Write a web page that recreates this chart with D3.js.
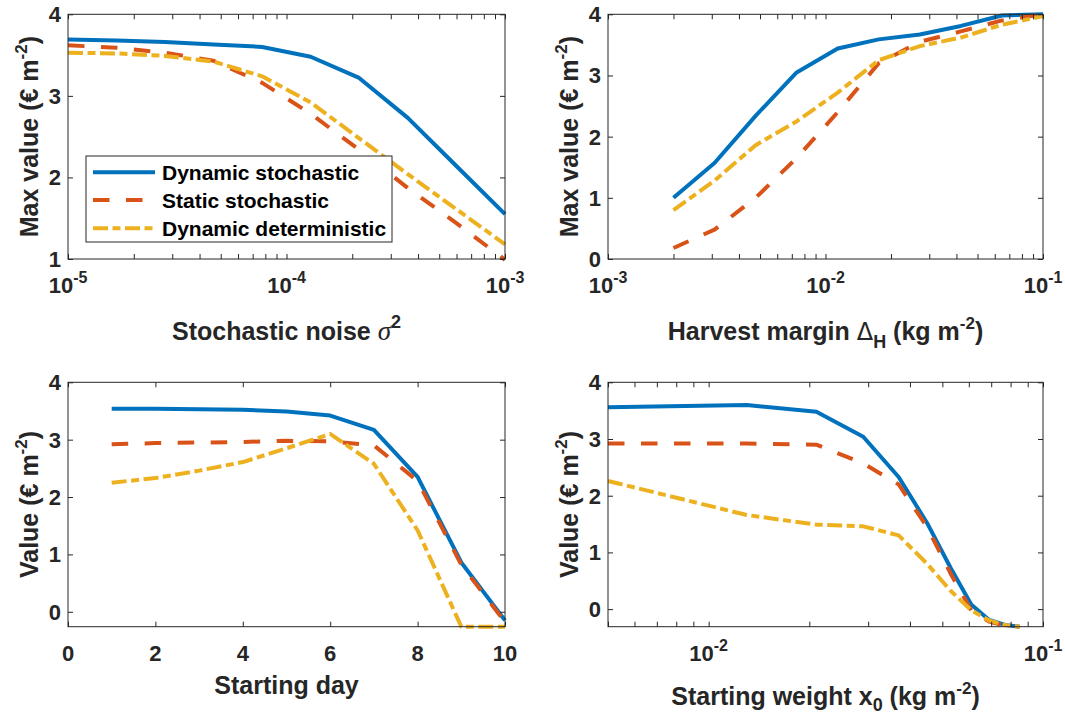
<!DOCTYPE html>
<html><head><meta charset="utf-8">
<script src="https://cdn.jsdelivr.net/npm/d3@7/dist/d3.min.js"></script>
<style>
body{margin:0;background:#fff}
svg text{font-family:"Liberation Sans",Arial,sans-serif;font-weight:bold;fill:#262626}
</style>
</head><body>
<svg id="c" width="1065" height="717"></svg>
<script>
// ---------------- data ----------------
const seriesNames = ["Dynamic stochastic", "Static stochastic", "Dynamic deterministic"];
const seriesColors = ["#0072BD", "#D95319", "#EDB120"];

// Panel 1: stochastic noise sigma^2
const noiseX = [1e-5, 1.67e-5, 2.78e-5, 4.64e-5, 7.74e-5, 1.29e-4, 2.15e-4, 3.59e-4, 5.99e-4, 1e-3];
const noiseDynStoch = [3.69, 3.68, 3.66, 3.63, 3.60, 3.48, 3.22, 2.73, 2.14, 1.55];
const noiseStatStoch = [3.62, 3.59, 3.53, 3.43, 3.16, 2.78, 2.34, 1.87, 1.44, 0.99];
const noiseDynDet = [3.53, 3.52, 3.49, 3.42, 3.24, 2.92, 2.48, 2.04, 1.61, 1.18];
const noiseXTicks = [1e-5, 1e-4, 1e-3];
const noiseXTickExp = ["-5", "-4", "-3"];
const noiseYTicks = [1, 2, 3, 4];

// Panel 2: harvest margin Delta_H
const marginX = [0.002, 0.003088, 0.00477, 0.007368, 0.01138, 0.01757, 0.02714, 0.04193, 0.06476, 0.1];
const marginDynStoch = [1.0, 1.57, 2.34, 3.05, 3.44, 3.59, 3.67, 3.81, 3.98, 4.0];
const marginStatStoch = [0.18, 0.48, 1.0, 1.65, 2.4, 3.2, 3.55, 3.72, 3.9, 4.0];
const marginDynDet = [0.80, 1.28, 1.86, 2.25, 2.72, 3.25, 3.48, 3.62, 3.83, 3.97];
const marginXTicks = [1e-3, 1e-2, 1e-1];
const marginXTickExp = ["-3", "-2", "-1"];
const marginYTicks = [0, 1, 2, 3, 4];

// Panel 3: starting day
const dayX = [1, 2, 3, 4, 5, 6, 7, 8, 9, 10];
const dayDynStoch = [3.54, 3.54, 3.53, 3.52, 3.49, 3.42, 3.17, 2.35, 0.86, -0.15];
const dayStatStoch = [2.92, 2.94, 2.95, 2.96, 2.98, 2.97, 2.90, 2.28, 0.82, -0.18];
const dayDynDet = [2.25, 2.33, 2.46, 2.61, 2.85, 3.10, 2.58, 1.42, -0.26, -0.26];
const dayXTicks = [0, 2, 4, 6, 8, 10];
const dayYTicks = [0, 1, 2, 3, 4];

// Panel 4: starting weight x0
const weightX = [0.005, 0.013, 0.021, 0.029, 0.037, 0.045, 0.053, 0.061, 0.069, 0.077, 0.085];
const weightDynStoch = [3.56, 3.60, 3.48, 3.04, 2.33, 1.52, 0.72, 0.08, -0.19, -0.28, -0.31];
const weightStatStoch = [2.92, 2.92, 2.90, 2.57, 2.20, 1.45, 0.62, -0.02, -0.22, -0.29, -0.31];
const weightDynDet = [2.26, 1.66, 1.49, 1.46, 1.30, 0.80, 0.32, -0.02, -0.20, -0.28, -0.31];
const weightXTicks = [1e-2, 1e-1];
const weightXTickExp = ["-2", "-1"];
const weightYTicks = [0, 1, 2, 3, 4];

// ---------------- drawing ----------------
const svg = d3.select("#c");
const dashes = [null, "16.5,16.5", "15,4.5,8,4.5"];
const LW = 4;

function minorLogTicks(lo, hi) {
  const out = [];
  for (let e = Math.floor(Math.log10(lo)); e < Math.ceil(Math.log10(hi)); e++) {
    for (let m = 2; m <= 9; m++) {
      const v = m * Math.pow(10, e);
      if (v >= lo * 0.999 && v <= hi * 1.001) out.push(v);
    }
  }
  return out;
}

function addParts(textSel, parts) {
  let shift = 0;
  parts.forEach(p => {
    const ts = textSel.append("tspan").text(p.t);
    let target = 0;
    if (p.sup) target = -p.sup;
    if (p.sub) target = p.sub;
    const dy = target - shift;
    if (dy !== 0) ts.attr("dy", dy);
    shift = target;
    if (p.size) ts.style("font-size", p.size + "px");
    if (p.family) ts.style("font-family", p.family);
    if (p.italic) ts.style("font-style", "italic");
    if (p.normal) ts.style("font-weight", "normal");
  });
}

function drawPanel(cfg) {
  const g = svg.append("g");
  const x = cfg.xScale.domain(cfg.xDomain).range([cfg.left, cfg.right]);
  const y = d3.scaleLinear().domain(cfg.yDomain).range([cfg.bottom, cfg.top]);

  const line = d3.line().x(d => x(d[0])).y(d => y(d[1]));
  cfg.series.forEach((s, i) => {
    g.append("path")
      .datum(cfg.xs.map((xv, j) => [xv, s[j]]))
      .attr("d", line)
      .attr("fill", "none")
      .attr("stroke", seriesColors[i])
      .attr("stroke-width", LW)
      .attr("stroke-linejoin", "round")
      .attr("stroke-dasharray", dashes[i]);
  });

  g.append("rect")
    .attr("x", cfg.left).attr("y", cfg.top)
    .attr("width", cfg.right - cfg.left).attr("height", cfg.bottom - cfg.top)
    .attr("fill", "none").attr("stroke", "#262626").attr("stroke-width", 1);

  const allX = cfg.xTicks.concat(cfg.xMinor || []);
  const tk = 5;
  const styleAxis = a => { a.select(".domain").remove(); a.selectAll("line").attr("stroke", "#262626"); };
  g.append("g").attr("transform", `translate(0,${cfg.bottom})`)
    .call(d3.axisBottom(x).tickValues(allX).tickSize(-tk).tickSizeOuter(0).tickFormat(""))
    .call(styleAxis);
  g.append("g").attr("transform", `translate(0,${cfg.top})`)
    .call(d3.axisTop(x).tickValues(allX).tickSize(-tk).tickSizeOuter(0).tickFormat(""))
    .call(styleAxis);
  g.append("g").attr("transform", `translate(${cfg.left},0)`)
    .call(d3.axisLeft(y).tickValues(cfg.yTicks).tickSize(-tk).tickSizeOuter(0).tickFormat(""))
    .call(styleAxis);
  g.append("g").attr("transform", `translate(${cfg.right},0)`)
    .call(d3.axisRight(y).tickValues(cfg.yTicks).tickSize(-tk).tickSizeOuter(0).tickFormat(""))
    .call(styleAxis);

  cfg.yTicks.forEach(v => {
    g.append("text").attr("x", cfg.left - 7).attr("y", y(v)).attr("dy", "0.36em")
      .attr("text-anchor", "end").style("font-size", "22px").text(v);
  });
  cfg.xTicks.forEach((v, k) => {
    const t = g.append("text").attr("x", x(v)).attr("y", cfg.bottom + 34)
      .attr("text-anchor", "middle").style("font-size", "22px");
    if (cfg.xExp) {
      addParts(t, [{t: "10"}, {t: cfg.xExp[k], sup: 10, size: 16}]);
    } else {
      t.text(cfg.xTicks[k]);
    }
  });
  const xl = g.append("text").attr("x", (cfg.left + cfg.right) / 2)
    .attr("y", cfg.bottom + cfg.xLabelOffset)
    .attr("text-anchor", "middle").style("font-size", "25px");
  addParts(xl, cfg.xLabel);
  const yl = g.append("text")
    .attr("transform", `translate(${cfg.left - 30},${(cfg.top + cfg.bottom) / 2}) rotate(-90)`)
    .attr("text-anchor", "middle").style("font-size", "25px");
  addParts(yl, cfg.yLabel);
  return {x, y, g};
}

const L1 = 68, R1 = 505, L2 = 608, R2 = 1043;
const T1 = 14.3, B1 = 259, T2 = 382.3, B2 = 626.7;

const yMaxLabel = [{t: "Max value (€ m"}, {t: "-2", sup: 11, size: 17}, {t: ")"}];
const yValLabel = [{t: "Value (€ m"}, {t: "-2", sup: 11, size: 17}, {t: ")"}];

drawPanel({
  left: L1, right: R1, top: T1, bottom: B1,
  xScale: d3.scaleLog(), xDomain: [1e-5, 1e-3], yDomain: [1, 4],
  xs: noiseX, series: [noiseDynStoch, noiseStatStoch, noiseDynDet],
  xTicks: noiseXTicks, xExp: noiseXTickExp, xMinor: minorLogTicks(1e-5, 1e-3),
  yTicks: noiseYTicks, xLabelOffset: 81,
  xLabel: [{t: "Stochastic noise "}, {t: "σ", italic: true, normal: true, family: "'Liberation Serif', serif", size: 27}, {t: "2", sup: 12, size: 18}],
  yLabel: yMaxLabel
});

drawPanel({
  left: L2, right: R2, top: T1, bottom: B1,
  xScale: d3.scaleLog(), xDomain: [1e-3, 1e-1], yDomain: [0, 4],
  xs: marginX, series: [marginDynStoch, marginStatStoch, marginDynDet],
  xTicks: marginXTicks, xExp: marginXTickExp, xMinor: minorLogTicks(1e-3, 1e-1),
  yTicks: marginYTicks, xLabelOffset: 81,
  xLabel: [{t: "Harvest margin "}, {t: "Δ", normal: true, family: "'DejaVu Sans', sans-serif", size: 24}, {t: "H", sub: 8, size: 18}, {t: " (kg m"}, {t: "-2", sup: 11, size: 17}, {t: ")"}],
  yLabel: yMaxLabel
});

drawPanel({
  left: L1, right: R1, top: T2, bottom: B2,
  xScale: d3.scaleLinear(), xDomain: [0, 10], yDomain: [-0.26, 4],
  xs: dayX, series: [dayDynStoch, dayStatStoch, dayDynDet],
  xTicks: dayXTicks, xExp: null, xMinor: [],
  yTicks: dayYTicks, xLabelOffset: 67,
  xLabel: [{t: "Starting day"}],
  yLabel: yValLabel
});

drawPanel({
  left: L2, right: R2, top: T2, bottom: B2,
  xScale: d3.scaleLog(), xDomain: [0.005, 0.1], yDomain: [-0.31, 4],
  xs: weightX, series: [weightDynStoch, weightStatStoch, weightDynDet],
  xTicks: weightXTicks, xExp: weightXTickExp, xMinor: minorLogTicks(0.005, 0.1),
  yTicks: weightYTicks, xLabelOffset: 78,
  xLabel: [{t: "Starting weight x"}, {t: "0", sub: 6, size: 18}, {t: " (kg m"}, {t: "-2", sup: 11, size: 17}, {t: ")"}],
  yLabel: yValLabel
});

// legend (top-left panel)
const lg = svg.append("g");
const lgX = 86, lgY = 156, lgW = 306, lgH = 86;
lg.append("rect").attr("x", lgX).attr("y", lgY).attr("width", lgW).attr("height", lgH)
  .attr("fill", "#fff").attr("stroke", "#262626").attr("stroke-width", 1);
const rowY = [172.3, 200, 228.3];
seriesNames.forEach((name, i) => {
  lg.append("line").attr("x1", 93).attr("x2", 155).attr("y1", rowY[i]).attr("y2", rowY[i])
    .attr("stroke", seriesColors[i]).attr("stroke-width", LW).attr("stroke-dasharray", dashes[i]);
  lg.append("text").attr("x", 162).attr("y", rowY[i]).attr("dy", "0.36em")
    .style("font-size", "21px").style("fill", "#000").text(name);
});
</script>
</body></html>
